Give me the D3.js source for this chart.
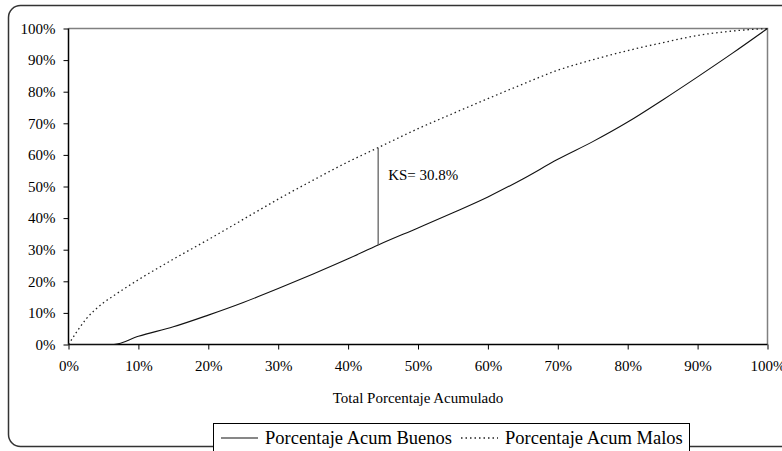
<!DOCTYPE html>
<html><head><meta charset="utf-8">
<script src="https://cdn.jsdelivr.net/npm/d3@7"></script>
<style>body{margin:0;background:#fff}svg{display:block}svg text{font-family:'Liberation Serif','Times New Roman',Times,'DejaVu Serif',serif}</style>
</head><body><svg id="c" width="782" height="451"></svg>
<script>
const xPct = [0, 2.5, 5, 6.5, 10, 15, 20, 25, 30, 35, 40, 44.3, 50, 55, 60, 65, 70, 75, 80, 85, 90, 95, 100];
const buenos = [0, 0, 0, 0, 2.6, 5.6, 9.3, 13.3, 17.7, 22.3, 27.1, 31.5, 36.9, 41.7, 46.7, 52.4, 58.6, 64.2, 70.4, 77.4, 84.7, 92.2, 100];
const malos = [0, 8, 13.2, 15.5, 20.5, 27, 33.2, 39.6, 46, 52, 57.8, 62.3, 68.3, 73.1, 77.8, 82.4, 86.8, 90.1, 93, 95.5, 97.8, 99.2, 100];
const tickVals = [0,10,20,30,40,50,60,70,80,90,100];
const ksAt = 44.3, ksTop = 62.3, ksBottom = 31.5, ksLabel = "KS= 30.8%";
const xTitle = "Total Porcentaje Acumulado";
const seriesNames = ["Porcentaje Acum Buenos", "Porcentaje Acum Malos"];

const svg = d3.select("#c");
const L = 68.5, R = 767.5, T = 28.5, B = 344.5;
const x = d3.scaleLinear().domain([0,100]).range([L,R]);
const y = d3.scaleLinear().domain([0,100]).range([B,T]);

svg.append("rect").attr("x",8.5).attr("y",5.5).attr("width",800).attr("height",441)
  .attr("rx",12).attr("fill","none").attr("stroke","#333").attr("stroke-width",1.5);

svg.append("path").attr("d",`M${L},${T}H${R}V${B}`).attr("fill","none").attr("stroke","#808080").attr("stroke-width",1.5);

const fmt = d => d + "%";
const gx = svg.append("g").attr("transform",`translate(0,${B})`)
  .call(d3.axisBottom(x).tickValues(tickVals).tickFormat(fmt).tickSize(5).tickPadding(11));
const gy = svg.append("g").attr("transform",`translate(${L},0)`)
  .call(d3.axisLeft(y).tickValues(tickVals).tickFormat(fmt).tickSize(5).tickPadding(8));
[gx,gy].forEach(g=>{
  g.attr("font-family",null);
  g.select(".domain").attr("stroke","#000").attr("stroke-width",1.5);
  g.selectAll(".tick line").attr("stroke","#000");
  g.selectAll("text").attr("font-size",15).attr("fill","#000");
});
gy.select(".domain").attr("d",`M0,${B}V${T}`);
gx.select(".domain").attr("d",`M${L},0H${R}`);

const line = d3.line().x((d,i)=>x(xPct[i])).y(d=>y(d)).curve(d3.curveMonotoneX);
svg.append("path").datum(malos).attr("d",line).attr("fill","none")
  .attr("stroke","#222").attr("stroke-width",1.3).attr("stroke-dasharray","1.5,3");
svg.append("path").datum(buenos).attr("d",line).attr("fill","none")
  .attr("stroke","#111").attr("stroke-width",1.1);

svg.append("line").attr("x1",x(ksAt)).attr("x2",x(ksAt)).attr("y1",y(ksTop)).attr("y2",y(ksBottom))
  .attr("stroke","#555").attr("stroke-width",1.2);
svg.append("text").attr("x",x(ksAt)+10).attr("y",y(ksTop)+32).attr("font-size",15).text(ksLabel);

svg.append("text").attr("x",(L+R)/2).attr("y",403).attr("text-anchor","middle").attr("font-size",15).text(xTitle);

const lg = svg.append("g");
lg.append("rect").attr("x",213.5).attr("y",423.5).attr("width",476).attr("height",40).attr("fill","#fff").attr("stroke","#000");
lg.append("line").attr("x1",221).attr("x2",258).attr("y1",438).attr("y2",438).attr("stroke","#111").attr("stroke-width",1.1);
lg.append("text").attr("x",265).attr("y",444).attr("font-size",18.5).text(seriesNames[0]);
lg.append("line").attr("x1",461).attr("x2",498).attr("y1",438).attr("y2",438).attr("stroke","#222").attr("stroke-width",1.3).attr("stroke-dasharray","1.5,3");
lg.append("text").attr("x",505).attr("y",444).attr("font-size",18.5).text(seriesNames[1]);
</script></body></html>
